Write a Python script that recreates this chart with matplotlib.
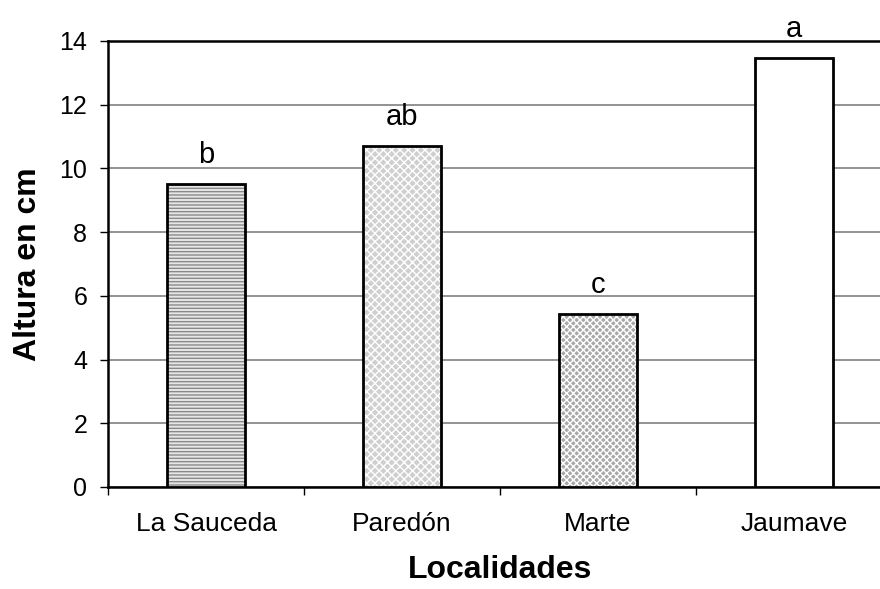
import numpy as np
import matplotlib
matplotlib.use("Agg")
import matplotlib.pyplot as plt

localidades = ["La Sauceda", "Paredón", "Marte", "Jaumave"]
altura = [9.5, 10.7, 5.43, 13.47]
letras = ["b", "ab", "c", "a"]
fondos = ["#e6e6e6", "#cfcfcf", "#a8a8a8", "white"]
tramas = ["-----", "xxxx", "xxxxx", ""]

plt.rcParams['font.family'] = ['Liberation Sans', 'DejaVu Sans']
plt.rcParams['hatch.linewidth'] = 1.0

fig = plt.figure(figsize=(8.8, 5.89), dpi=100)
ax = fig.add_axes([108/880, 102/589, 784/880, 446/589])

x = np.arange(len(localidades))
# relleno con trama y luego el borde negro encima
ax.bar(x, altura, width=0.40, color=fondos, linewidth=0, zorder=3)
for xi, h, fc, tr in zip(x, altura, fondos, tramas):
    if tr:
        ax.bar(xi, h, width=0.40, color="none",
               edgecolor="white" if fc != "#e6e6e6" else "#8a8a8a",
               hatch=tr, linewidth=0, zorder=3)
ax.bar(x, altura, width=0.40, color="none", edgecolor="black", linewidth=2, zorder=4)

for xi, h, t in zip(x, altura, letras):
    ax.annotate(t, (xi, h), xytext=(0, 11), textcoords="offset points",
                ha="center", va="bottom", fontsize=21)

ax.set_xlim(-0.5, 3.5)
ax.set_ylim(0, 14)
ax.set_yticks(np.arange(0, 15, 2))
ax.set_xticks(x)
ax.set_xticklabels(localidades, fontsize=19)
ax.set_xticks(np.arange(-0.5, 3.6, 1), minor=True)
ax.tick_params(axis="x", which="major", length=0, pad=18)
ax.tick_params(axis="x", which="minor", length=6, width=1, direction="out")
ax.tick_params(axis="y", labelsize=18, length=6, width=1, direction="out", pad=9)

ax.yaxis.grid(True, color="#808080", linewidth=1.2, zorder=0)
ax.set_axisbelow(True)
for s in ["left", "bottom", "top"]:
    ax.spines[s].set_linewidth(1.8)
ax.spines["right"].set_visible(False)

ax.set_ylabel("Altura en cm", fontsize=23, fontweight="bold", labelpad=12)
ax.set_xlabel("Localidades", fontsize=23, fontweight="bold", labelpad=14)

fig.savefig("out.png", dpi=100)
